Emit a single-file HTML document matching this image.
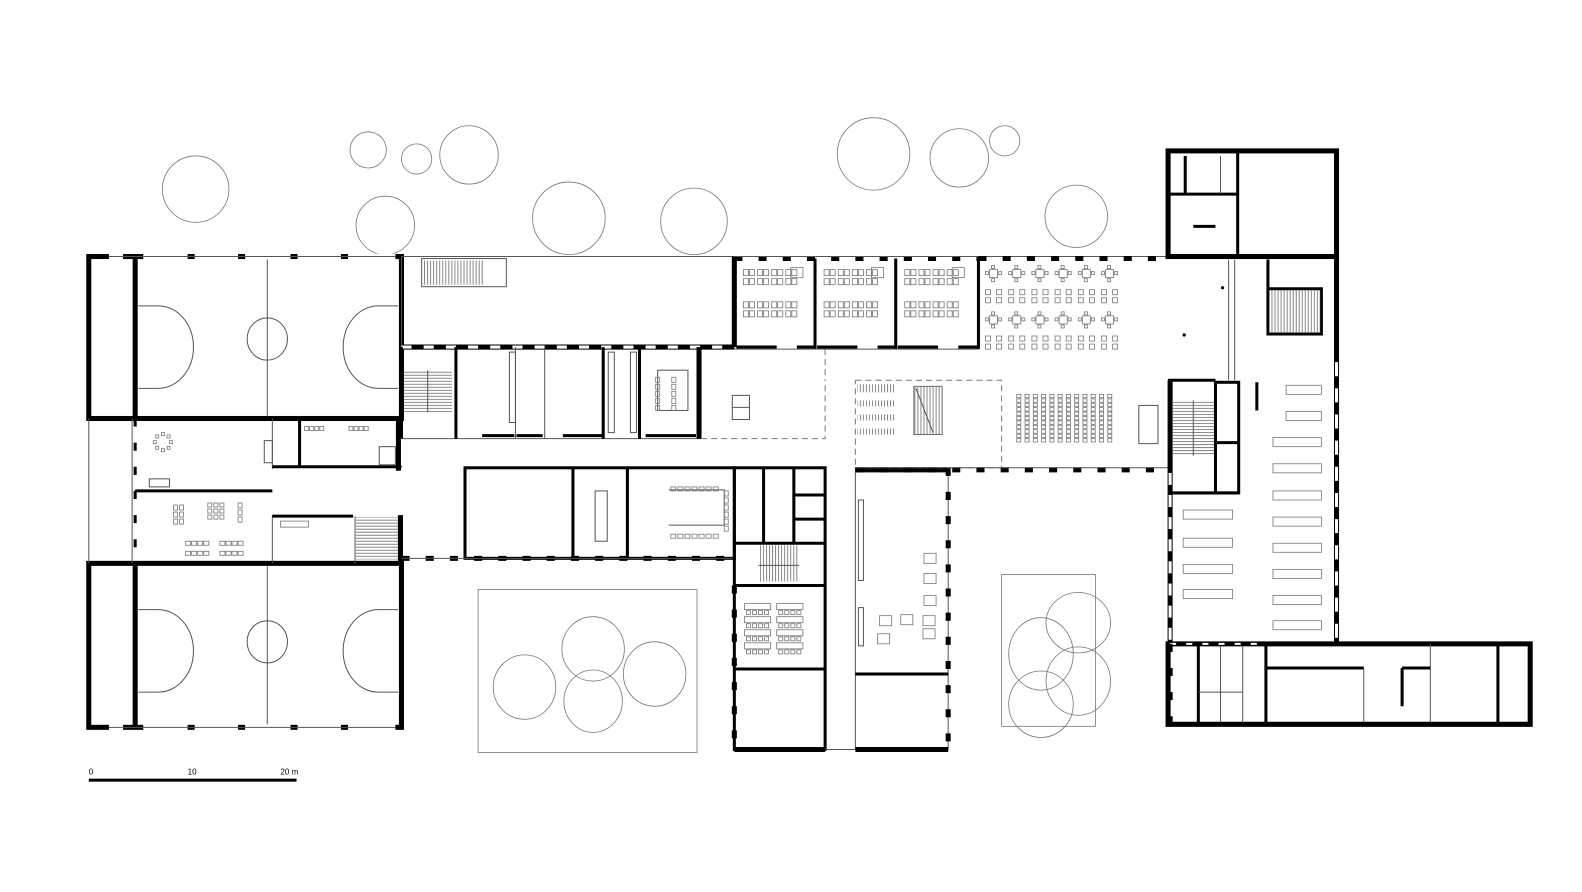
<!DOCTYPE html>
<html><head><meta charset="utf-8"><style>
html,body{margin:0;padding:0;background:#fff;}
svg{display:block}
.t{fill:none;stroke:#555;stroke-width:1}
.w{fill:none;stroke:#000;stroke-width:5}
.w3{fill:none;stroke:#000;stroke-width:3}
.g{fill:none;stroke:#777;stroke-width:0.8}
.win{fill:none;stroke:#000;stroke-width:5;stroke-dasharray:8 16}
.d{fill:none;stroke:#777;stroke-width:1;stroke-dasharray:6 4}
text{font-family:"Liberation Sans",sans-serif;font-size:8px;fill:#000}
</style></head><body>
<svg width="1582" height="892" viewBox="0 0 1582 892" xmlns="http://www.w3.org/2000/svg">
<defs>
<pattern id="hv" width="3" height="10" patternUnits="userSpaceOnUse"><line x1="1" y1="0" x2="1" y2="10" stroke="#555" stroke-width="0.7"/></pattern>
<pattern id="hh" width="10" height="3" patternUnits="userSpaceOnUse"><line x1="0" y1="1" x2="10" y2="1" stroke="#555" stroke-width="0.7"/></pattern>
</defs>
<g id="root" transform="scale(1.0087,1.006)">
<!-- trees -->
<g class="g">
<circle cx="194" cy="188" r="33"/><circle cx="365" cy="149" r="18"/><circle cx="413" cy="158" r="15"/>
<circle cx="465" cy="154" r="29"/><circle cx="382" cy="224" r="29"/><circle cx="564" cy="217" r="36"/>
<circle cx="688" cy="220" r="33"/><circle cx="866" cy="153" r="36"/><circle cx="951" cy="157" r="29"/>
<circle cx="996" cy="140" r="15"/><circle cx="1067" cy="215" r="31"/>
</g>
<!-- courtyards -->
<g class="g">
<rect x="474" y="586" width="217" height="162"/>
<ellipse cx="520" cy="683" rx="31" ry="32"/><ellipse cx="588" cy="645" rx="31" ry="32"/>
<ellipse cx="649" cy="670" rx="31" ry="32"/><ellipse cx="588" cy="697" rx="29" ry="31"/>
<rect x="993" y="571" width="93" height="151"/>
<ellipse cx="1032" cy="650" rx="32" ry="36"/><ellipse cx="1069" cy="619" rx="32" ry="30"/>
<ellipse cx="1069" cy="677" rx="32" ry="34"/><ellipse cx="1032" cy="700" rx="32" ry="33"/>
</g>

<!-- GYMS -->
<g>
<rect x="88" y="255" width="310" height="161" class="w"/>
<line x1="134" y1="255" x2="134" y2="416" class="w"/>
<line x1="265" y1="258" x2="265" y2="414" class="t"/>
<ellipse cx="265" cy="337" rx="20" ry="21" class="t"/>
<path d="M137 304 h20 a28 33 0 0 1 0 82 h-20" class="t"/>
<path d="M395 304 h-20 a28 33 0 0 0 0 82 h20" class="t"/>
<rect x="88" y="560" width="310" height="163" class="w"/>
<line x1="134" y1="560" x2="134" y2="723" class="w"/>
<line x1="265" y1="563" x2="265" y2="721" class="t"/>
<ellipse cx="265" cy="638" rx="20" ry="21" class="t"/>
<path d="M137 606 h20 a28 33 0 0 1 0 82 h-20" class="t"/>
<path d="M395 606 h-20 a28 33 0 0 0 0 82 h20" class="t"/>
<g stroke="#fff" stroke-width="6">
<line x1="108" y1="255" x2="122" y2="255"/><line x1="142" y1="255" x2="186" y2="255"/><line x1="193" y1="255" x2="236" y2="255"/><line x1="243" y1="255" x2="288" y2="255"/><line x1="295" y1="255" x2="338" y2="255"/><line x1="345" y1="255" x2="392" y2="255"/>
<line x1="108" y1="723" x2="122" y2="723"/><line x1="142" y1="723" x2="186" y2="723"/><line x1="193" y1="723" x2="236" y2="723"/><line x1="243" y1="723" x2="288" y2="723"/><line x1="295" y1="723" x2="338" y2="723"/><line x1="345" y1="723" x2="392" y2="723"/>
</g>
<g class="t"><line x1="108" y1="255" x2="392" y2="255"/><line x1="108" y1="723" x2="392" y2="723"/></g>
</g>

<!-- between gyms -->
<g>
<line x1="88" y1="416" x2="88" y2="560" class="t"/>
<line x1="131" y1="416" x2="131" y2="560" class="t"/>
<line x1="134" y1="416" x2="134" y2="560" class="win" style="stroke-width:3"/>
<line x1="134" y1="488" x2="270" y2="488" class="w3"/>
<line x1="270" y1="416" x2="270" y2="466" class="t"/>
<line x1="270" y1="512" x2="270" y2="560" class="t"/>
<rect x="262" y="438" width="8" height="22" class="t"/>
<line x1="297" y1="418" x2="297" y2="464" class="w3"/>
<line x1="270" y1="464" x2="398" y2="464" class="w3"/>
<line x1="395" y1="416" x2="395" y2="468" class="w"/>
<rect x="376" y="444" width="16" height="18" class="t"/>
<line x1="270" y1="513" x2="350" y2="513" class="w3"/>
<line x1="352" y1="513" x2="352" y2="560" class="t"/>
<rect x="353" y="514" width="42" height="42" fill="url(#hh)"/>
<line x1="397" y1="512" x2="397" y2="560" class="w"/>
<rect x="148" y="476" width="20" height="8" class="t"/>
</g>

<!-- top corridor block -->
<g>
<line x1="398" y1="255" x2="728" y2="255" class="t"/>
<line x1="398" y1="255" x2="398" y2="345" class="t"/>
<line x1="728" y1="255" x2="728" y2="345" class="w"/>
<rect x="418" y="257" width="84" height="28" class="t"/>
<rect x="420" y="259" width="60" height="24" fill="url(#hv)"/>
<line x1="398" y1="345" x2="728" y2="345" class="w"/>
<line x1="398" y1="345" x2="728" y2="345" stroke="#fff" stroke-width="3" stroke-dasharray="10 12"/>
<line x1="398" y1="436" x2="695" y2="436" class="t"/>
<line x1="398" y1="345" x2="398" y2="436" class="w3"/>
<rect x="400" y="368" width="48" height="42" fill="url(#hh)"/>
<line x1="424" y1="368" x2="424" y2="410" class="t"/>
<line x1="452" y1="345" x2="452" y2="436" class="w3"/>
<line x1="598" y1="345" x2="598" y2="436" class="w3"/>
<line x1="634" y1="345" x2="634" y2="436" class="w3"/>
<line x1="693" y1="345" x2="693" y2="436" class="w"/>
<line x1="511" y1="345" x2="511" y2="436" class="t"/>
<line x1="540" y1="345" x2="540" y2="436" class="t"/>
<rect x="505" y="350" width="6" height="70" class="t"/>
<rect x="603" y="350" width="6" height="80" class="t"/>
<rect x="625" y="350" width="6" height="80" class="t"/>
<g class="w3"><line x1="478" y1="433" x2="510" y2="433"/><line x1="512" y1="433" x2="538" y2="433"/><line x1="558" y1="433" x2="597" y2="433"/><line x1="640" y1="433" x2="690" y2="433"/></g>
<rect x="652" y="368" width="30" height="40" class="t"/>
</g>

<!-- lower room row -->
<g>
<rect x="461" y="465" width="267" height="90" class="w3"/>
<line x1="568" y1="465" x2="568" y2="555" class="w3"/>
<line x1="622" y1="465" x2="622" y2="555" class="w3"/>
<line x1="398" y1="555" x2="728" y2="555" class="win"/>
<line x1="398" y1="555" x2="728" y2="555" class="t"/>
<rect x="590" y="488" width="12" height="50" class="t"/>
<path d="M663 487 h55 v35 h-55" class="t"/>
</g>

<!-- middle column -->
<g>
<rect x="728" y="465" width="90" height="280" class="w3"/>
<line x1="728" y1="540" x2="818" y2="540" class="w3"/>
<line x1="728" y1="582" x2="818" y2="582" class="w3"/>
<line x1="728" y1="665" x2="818" y2="665" class="w3"/>
<line x1="757" y1="465" x2="757" y2="540" class="w3"/>
<line x1="787" y1="465" x2="787" y2="540" class="w3"/>
<line x1="787" y1="492" x2="818" y2="492" class="w3"/>
<line x1="787" y1="516" x2="818" y2="516" class="w3"/>
<line x1="728" y1="745" x2="818" y2="745" class="w"/>
<line x1="728" y1="582" x2="728" y2="745" class="win"/>
<rect x="752" y="542" width="40" height="36" fill="url(#hv)"/>
<line x1="752" y1="562" x2="792" y2="562" class="t"/>
<rect x="848" y="465" width="92" height="280" class="t"/>
<line x1="848" y1="467" x2="940" y2="467" class="w"/>
<line x1="940" y1="465" x2="940" y2="745" class="win"/>
<line x1="848" y1="745" x2="940" y2="745" class="w"/>
<line x1="848" y1="670" x2="940" y2="670" class="w3"/>
<rect x="851" y="497" width="5" height="80" class="t"/>
<rect x="851" y="604" width="5" height="38" class="t"/>
<line x1="818" y1="745" x2="848" y2="745" class="t"/>
</g>

<!-- classrooms top -->
<g>
<line x1="728" y1="257" x2="970" y2="257" class="win"/>
<line x1="728" y1="255" x2="1158" y2="255" class="t"/>
<line x1="970" y1="257" x2="1158" y2="257" class="win"/>
<line x1="808" y1="257" x2="808" y2="347" class="w3"/>
<line x1="888" y1="257" x2="888" y2="347" class="w3"/>
<line x1="970" y1="257" x2="970" y2="347" class="w3"/>
<line x1="728" y1="347" x2="970" y2="347" class="t"/>
<g class="w3"><path d="M730 345 h40 M790 345 h18 M810 345 h40 M870 345 h18 M890 345 h40 M950 345 h20"/></g>
</g>

<!-- central hall -->
<g>
<path d="M695 436 H818 V378" class="d"/>
<line x1="818" y1="347" x2="818" y2="378" class="d"/>
<rect x="848" y="378" width="145" height="87" class="d"/>
<line x1="848" y1="467" x2="1158" y2="467" class="win"/>
<line x1="848" y1="465" x2="1158" y2="465" class="t"/>
<rect x="726" y="393" width="17" height="24" class="t"/><line x1="726" y1="405" x2="743" y2="405" class="t"/>
<rect x="906" y="384" width="28" height="48" fill="url(#hv)" stroke="#555" stroke-width="0.8"/>
<line x1="908" y1="386" x2="925" y2="430" class="t"/>
<rect x="850" y="382" width="38" height="8" fill="url(#hv)"/>
<rect x="850" y="398" width="38" height="6" fill="url(#hv)"/>
<rect x="850" y="412" width="38" height="6" fill="url(#hv)"/>
<rect x="850" y="426" width="38" height="6" fill="url(#hv)"/>
<rect x="1129" y="403" width="19" height="38" class="t"/>
<circle cx="1212" cy="286" r="1.6"/><circle cx="1174" cy="333" r="1.6"/>
<line x1="1218" y1="258" x2="1218" y2="378" class="t"/><line x1="1224" y1="258" x2="1224" y2="378" class="t"/>
</g>

<!-- right block -->
<g>
<rect x="1158" y="150" width="167" height="105" class="w"/>
<line x1="1227" y1="150" x2="1227" y2="255" class="w3"/>
<line x1="1160" y1="193" x2="1227" y2="193" class="w3"/>
<line x1="1175" y1="155" x2="1175" y2="193" class="w3"/>
<line x1="1210" y1="155" x2="1210" y2="193" class="t"/>
<line x1="1183" y1="225" x2="1205" y2="225" class="w3"/>
<line x1="1158" y1="255" x2="1325" y2="255" class="w3"/>
<line x1="1325" y1="255" x2="1325" y2="640" class="w"/>
<line x1="1325" y1="360" x2="1325" y2="640" stroke="#fff" stroke-width="3" stroke-dasharray="14 12"/>
<path d="M1257 258 V332 H1310 V287 H1257" class="w3"/>
<rect x="1258" y="288" width="51" height="43" fill="url(#hv)"/>
<line x1="1160" y1="378" x2="1160" y2="640" class="w"/>
<line x1="1160" y1="470" x2="1160" y2="640" stroke="#fff" stroke-width="3" stroke-dasharray="12 10"/>
<line x1="1158" y1="378" x2="1205" y2="378" class="w3"/>
<rect x="1162" y="398" width="42" height="55" fill="url(#hh)"/>
<line x1="1183" y1="398" x2="1183" y2="453" class="t"/>
<rect x="1205" y="380" width="23" height="110" class="w3"/>
<line x1="1205" y1="440" x2="1228" y2="440" class="w3"/>
<line x1="1160" y1="490" x2="1228" y2="490" class="w3"/>
<line x1="1246" y1="380" x2="1246" y2="408" class="w3"/>
<path d="M1158 640 H1517 V720 H1158 Z" class="w"/>
<line x1="1160" y1="640" x2="1255" y2="640" stroke="#fff" stroke-width="2" stroke-dasharray="6 10"/>
<line x1="1188" y1="642" x2="1188" y2="718" class="w3"/>
<line x1="1210" y1="642" x2="1210" y2="718" class="t"/>
<line x1="1232" y1="642" x2="1232" y2="718" class="t"/>
<line x1="1188" y1="688" x2="1232" y2="688" class="t"/>
<line x1="1255" y1="640" x2="1255" y2="718" class="w3"/>
<line x1="1255" y1="664" x2="1352" y2="664" class="w3"/>
<line x1="1352" y1="664" x2="1352" y2="718" class="t"/>
<line x1="1390" y1="664" x2="1390" y2="702" class="w3"/>
<line x1="1418" y1="640" x2="1418" y2="718" class="t"/>
<line x1="1485" y1="642" x2="1485" y2="718" class="w3"/>
<line x1="1390" y1="664" x2="1418" y2="664" class="w3"/>
<line x1="1160" y1="640" x2="1160" y2="720" class="win"/>
</g>

<rect x="88" y="774" width="206" height="3" fill="#000"/>
<text x="88" y="770">0</text><text x="186" y="770">10</text><text x="278" y="770">20 m</text>

<g id="furn" class="g"></g>
</g>
</svg>
<script>
var f=document.getElementById('furn'),ns='http://www.w3.org/2000/svg';
function r(x,y,w,h){var e=document.createElementNS(ns,'rect');e.setAttribute('x',x);e.setAttribute('y',y);e.setAttribute('width',w);e.setAttribute('height',h);f.appendChild(e);}
for(var i=0;i<12;i++)for(var j=0;j<11;j++)r(1008+i*8.2,392+j*4.4,4,3.4);
for(var i=0;i<6;i++)for(var k=0;k<2;k++){var x=985+i*23,y=268+k*46;r(x-4,y,8,8);r(x-8,y+2,3,3);r(x+5,y+2,3,3);r(x-2,y-4,3,3);r(x-2,y+9,3,3);
 r(x-8,y+20,5,5);r(x+3,y+20,5,5);r(x-8,y+28,5,5);r(x+3,y+28,5,5);}
[732,812,892].forEach(function(cx){for(var a=0;a<4;a++)for(var b=0;b<2;b++){for(var c=0;c<2;c++){r(cx+5+a*14,268+b*32+c*9,5,6);r(cx+11+a*14,268+b*32+c*9,5,6);}}r(cx+52,266,12,10);});
for(var a=0;a<2;a++)for(var b=0;b<4;b++)r(738+a*32,600+b*13,26,6);
for(var a=0;a<2;a++)for(var b=0;b<4;b++)for(var c=0;c<4;c++)r(740+a*32+c*6,607+b*13,4,4);
[[916,550],[916,570],[916,592],[872,612],[893,611],[915,612],[870,630],[915,625]].forEach(function(p){r(p[0],p[1],12,10);});
[383,409,435,461,488,514,540,566,592,617].forEach(function(y,i){r(i<2?1275:1262,y,i<2?35:48,9);});
[507,535,561,586].forEach(function(y){r(1173,y,49,9);});
for(var i=0;i<7;i++){r(665+i*7,484,5,4);r(665+i*7,531,5,4);}
for(var i=0;i<6;i++)r(718,488+i*7,4,5);
for(var i=0;i<5;i++){r(650,375+i*7,4,5);r(666,375+i*7,4,5);}
for(var i=0;i<4;i++){r(302+i*5,424,4,4);r(346+i*5,424,4,4);}
for(var i=0;i<3;i++){r(172,502+i*7,4,5);r(178,502+i*7,4,5);r(206,500+i*6,4,4);r(212,500+i*6,4,4);r(218,500+i*6,4,4);r(236,500+i*7,4,5);}
for(var i=0;i<4;i++){r(184+i*6,538,5,4);r(218+i*6,538,5,4);r(184+i*6,548,5,4);r(218+i*6,548,5,4);}
for(var i=0;i<8;i++){var a=i/8*6.283;r(160+Math.cos(a)*8,438+Math.sin(a)*8,3,3);}
r(278,518,28,6);
</script>
</body></html>
